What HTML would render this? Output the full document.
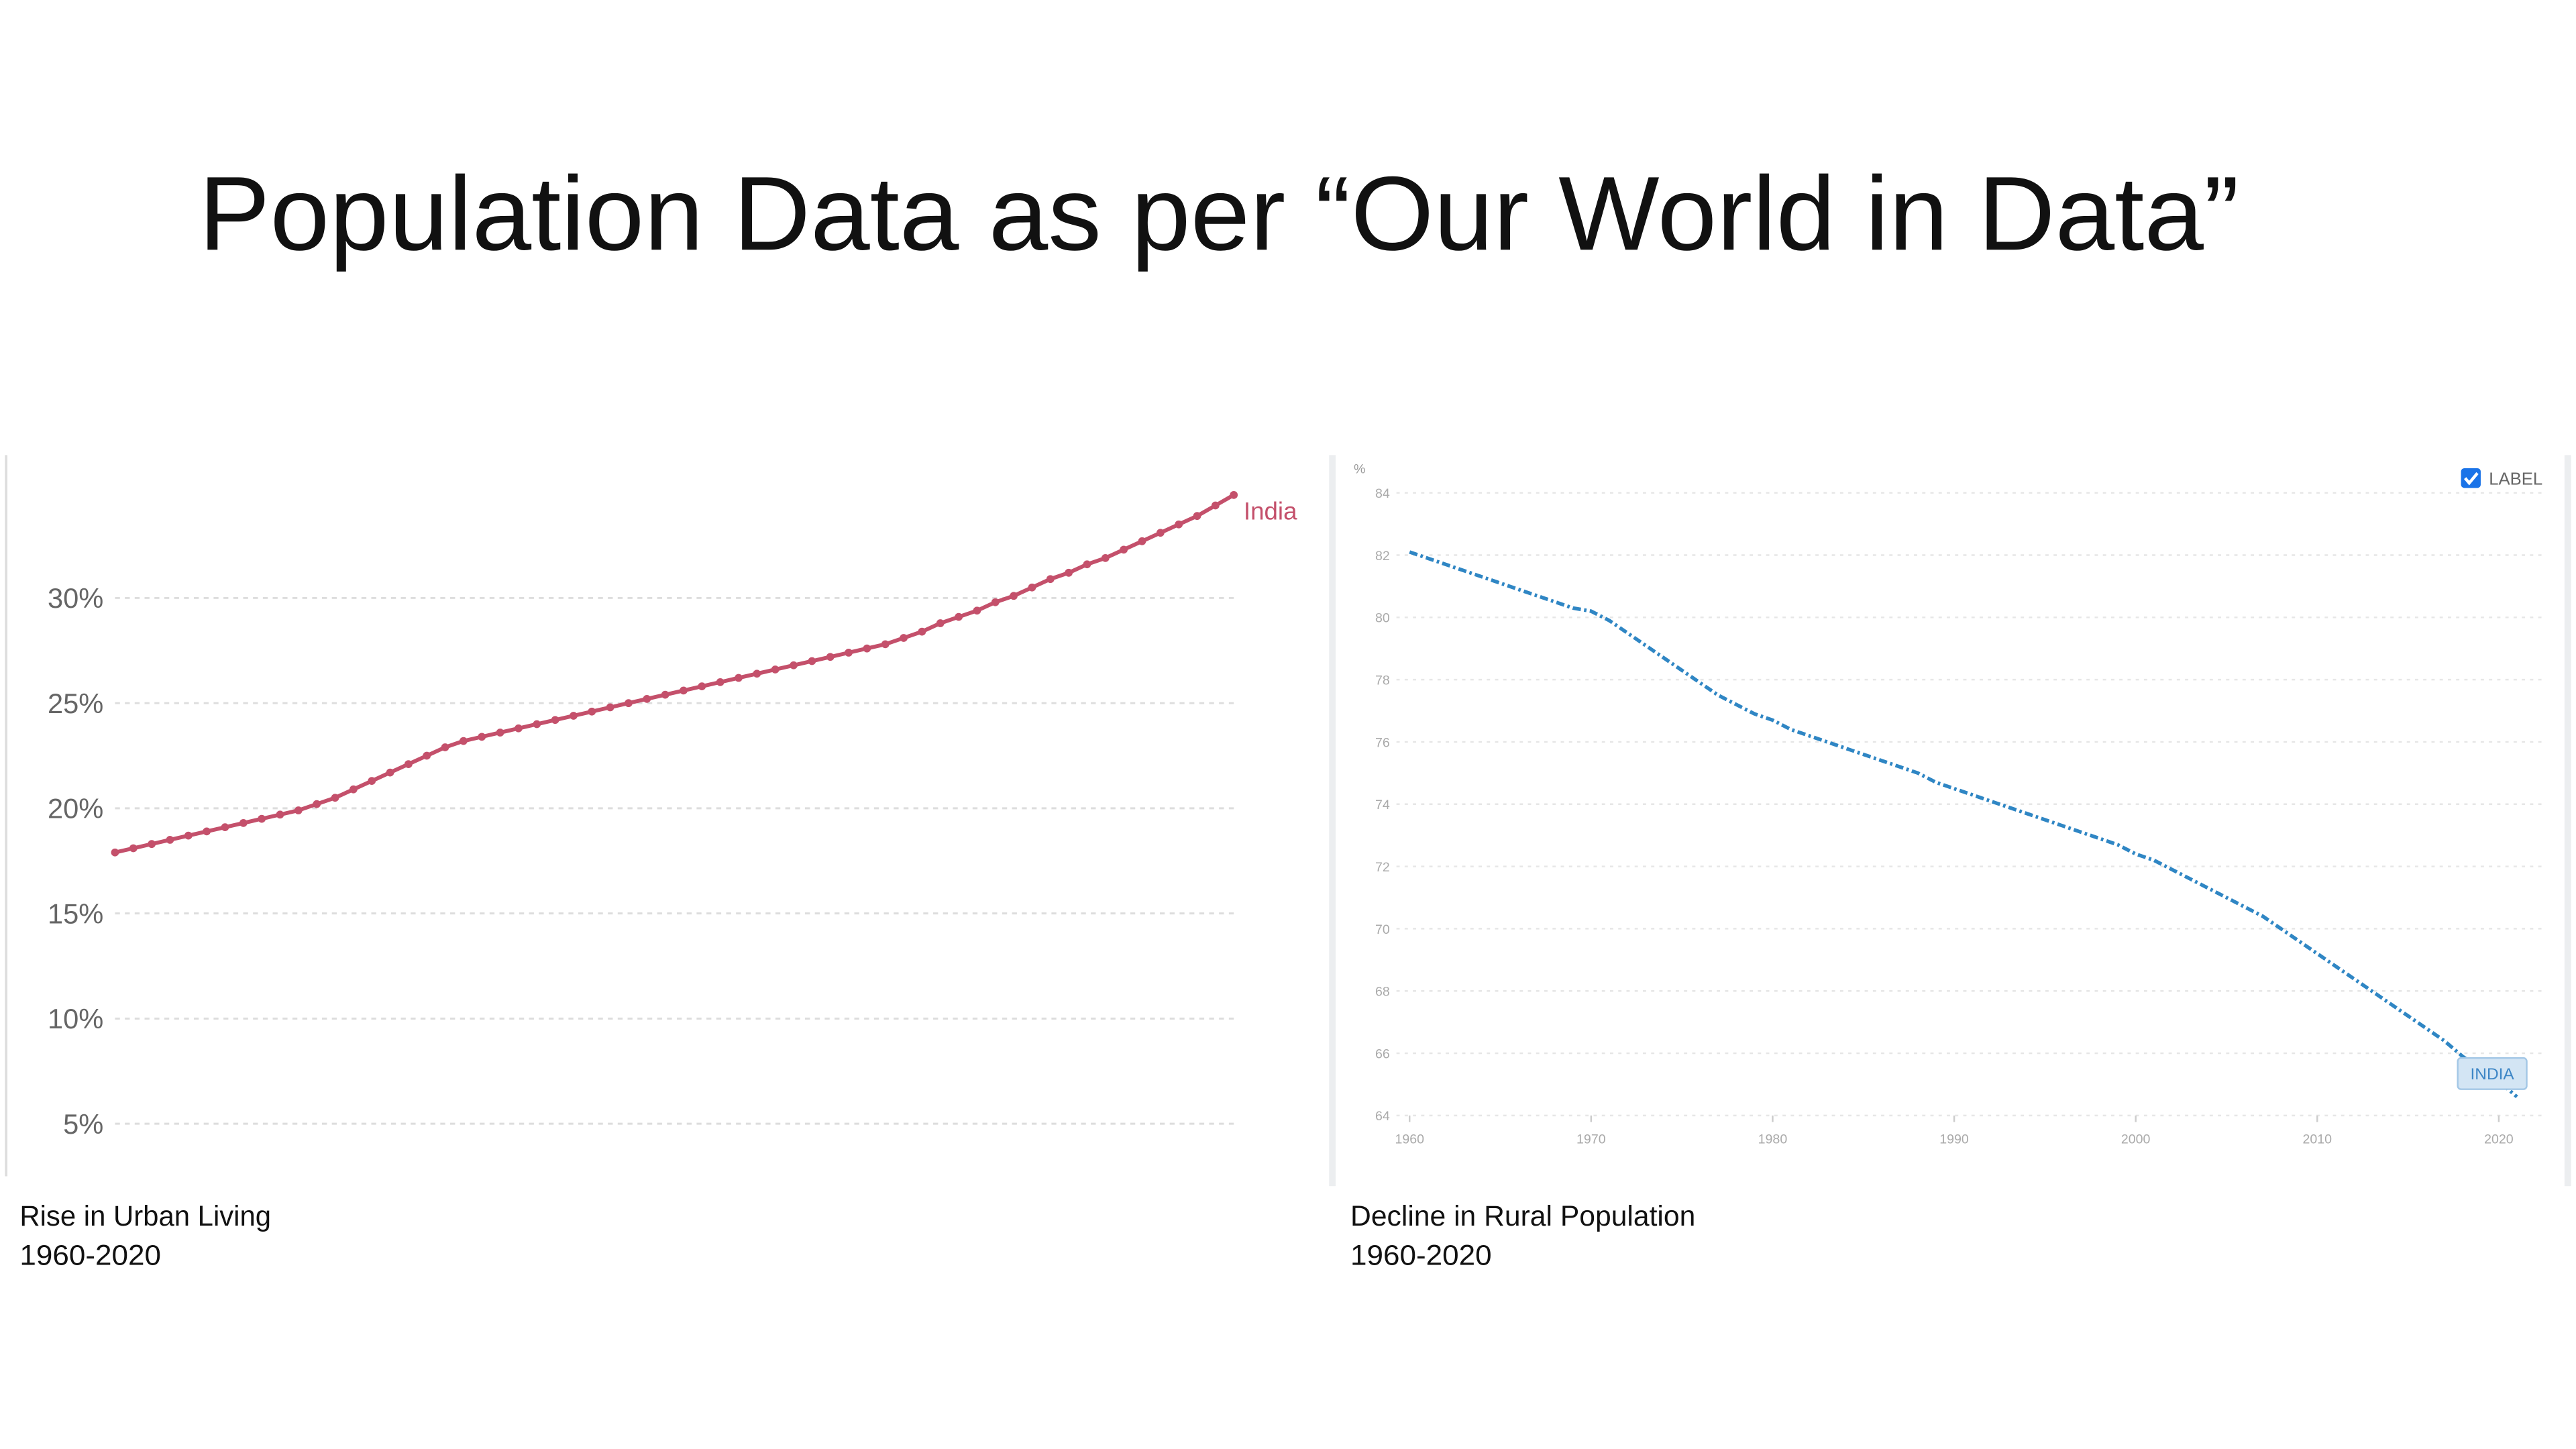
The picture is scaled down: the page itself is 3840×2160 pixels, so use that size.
<!DOCTYPE html>
<html><head><meta charset="utf-8"><style>
html,body{margin:0;padding:0;background:#fff;}
svg{display:block;}
text{font-family:"Liberation Sans",sans-serif;}
</style></head><body>
<svg id="s" width="3840" height="2160" viewBox="0 0 1568 882" xmlns="http://www.w3.org/2000/svg">
<text x="121" y="152" font-size="64" fill="#111" textLength="1242" lengthAdjust="spacingAndGlyphs">Population Data as per “Our World in Data”</text>
<g id="left">
<rect x="3" y="277" width="1.5" height="439" fill="#ddd"/>
</g>
<g id="right">
<rect x="809" y="277" width="4" height="445" fill="#eceef0"/>
<rect x="1561" y="277" width="4" height="445" fill="#eceef0"/>
<text x="824" y="288" font-size="8" fill="#999">%</text>
<rect x="1498" y="285" width="12" height="12" rx="2" fill="#1a73e8"/>
<path d="M1500.5 291 l2.5 3 l5 -6" stroke="#fff" stroke-width="1.8" fill="none"/>
<text x="1515" y="295" font-size="10.5" fill="#666">LABEL</text>
</g>
<text x="12" y="746" font-size="17.5" fill="#111" textLength="153" lengthAdjust="spacingAndGlyphs">Rise in Urban Living</text>
<text x="12" y="770" font-size="17.5" fill="#111" textLength="86" lengthAdjust="spacingAndGlyphs">1960-2020</text>
<text x="822" y="746" font-size="17.5" fill="#111" textLength="210" lengthAdjust="spacingAndGlyphs">Decline in Rural Population</text>
<text x="822" y="770" font-size="17.5" fill="#111" textLength="86" lengthAdjust="spacingAndGlyphs">1960-2020</text>
</svg>
<script>
const urbanYears0 = 1960;
const urbanValues = [17.9,18.1,18.3,18.5,18.7,18.9,19.1,19.3,19.5,19.7,19.9,
20.2,20.5,20.9,21.3,21.7,22.1,22.5,22.9,23.2,23.4,
23.6,23.8,24.0,24.2,24.4,24.6,24.8,25.0,25.2,25.4,
25.6,25.8,26.0,26.2,26.4,26.6,26.8,27.0,27.2,27.4,
27.6,27.8,28.1,28.4,28.8,29.1,29.4,29.8,30.1,30.5,
30.9,31.2,31.6,31.9,32.3,32.7,33.1,33.5,33.9,34.4,34.9];
const urbanTicks = [5,10,15,20,25,30];
const ruralValues = [82.1,81.9,81.7,81.5,81.3,81.1,80.9,80.7,80.5,80.3,80.2,
79.9,79.5,79.1,78.7,78.3,77.9,77.5,77.2,76.9,76.7,
76.4,76.2,76.0,75.8,75.6,75.4,75.2,75.0,74.7,74.5,
74.3,74.1,73.9,73.7,73.5,73.3,73.1,72.9,72.7,72.4,
72.2,71.9,71.6,71.3,71.0,70.7,70.4,70.0,69.6,69.2,
68.8,68.4,68.0,67.6,67.2,66.8,66.4,65.9,65.5,65.1,64.6];
const ruralYTicks = [64,66,68,70,72,74,76,78,80,82,84];
const ruralXTicks = [1960,1970,1980,1990,2000,2010,2020];

const NS="http://www.w3.org/2000/svg";
function mk(parent,tag,attrs){const e=document.createElementNS(NS,tag);for(const k in attrs)e.setAttribute(k,attrs[k]);parent.appendChild(e);return e;}
// urban axes
const ux = y => 70 + (y-1960)*(751-70)/61;
const uy = v => 364 + (30-v)*12.8;
const L=document.getElementById('left');
urbanTicks.forEach(t=>{
  const g=mk(L,'line',{x1:70,x2:751,y1:uy(t),y2:uy(t),stroke:'#ddd','stroke-width':1.2,'stroke-dasharray':'3 3'});
  
  
  const tx=mk(L,'text',{x:63,y:uy(t)+6,'font-size':17,fill:'#666','text-anchor':'end'});
  tx.textContent=t+'%';
  
  
});
const upts=urbanValues.map((v,i)=>ux(urbanYears0+i)+','+uy(v)).join(' ');
const ul=mk(L,'polyline',{points:upts,fill:'none',stroke:'#c4506b','stroke-width':2.4,'stroke-linejoin':'round'});


urbanValues.forEach((v,i)=>{
  const c=mk(L,'circle',{cx:ux(urbanYears0+i),cy:uy(v),r:2.4,fill:'#c4506b'});
  
  
});
const il=mk(L,'text',{x:757,y:uy(urbanValues[urbanValues.length-1])+15,'font-size':15,fill:'#c4506b'});
il.textContent='India';


// rural axes
const rx = y => 858 + (y-1960)*(1521-858)/60;
const ry = v => 300 + (84-v)*18.95;
const R=document.getElementById('right');
ruralYTicks.forEach(t=>{
  const g=mk(R,'line',{x1:850,x2:1548,y1:ry(t),y2:ry(t),stroke:'#e6e6e6','stroke-width':1,'stroke-dasharray':'2 3'});
  
  
  const tx=mk(R,'text',{x:846,y:ry(t)+3,'font-size':8,fill:'#aaa','text-anchor':'end'});
  tx.textContent=t;
  
  
});
ruralXTicks.forEach(t=>{
  const tk=mk(R,'line',{x1:rx(t),x2:rx(t),y1:ry(64),y2:ry(64)+4,stroke:'#ccc','stroke-width':1});
  
  
  const tx=mk(R,'text',{x:rx(t),y:696,'font-size':8,fill:'#aaa','text-anchor':'middle'});
  tx.textContent=t;
  
  
});
const rpts=ruralValues.map((v,i)=>rx(1960+i)+','+ry(v)).join(' ');
const rl=mk(R,'polyline',{points:rpts,fill:'none',stroke:'#2f86c4','stroke-width':2.2,'stroke-dasharray':'5 2 1.5 2'});


const bx=mk(R,'rect',{x:1496,y:644,width:42,height:19,rx:2,fill:'#d3e5f4',stroke:'#a3c7e6','stroke-width':1});


const bt=mk(R,'text',{x:1517,y:657,'font-size':10,fill:'#3d86c6','text-anchor':'middle'});
bt.textContent='INDIA';


</script>
</body></html>
